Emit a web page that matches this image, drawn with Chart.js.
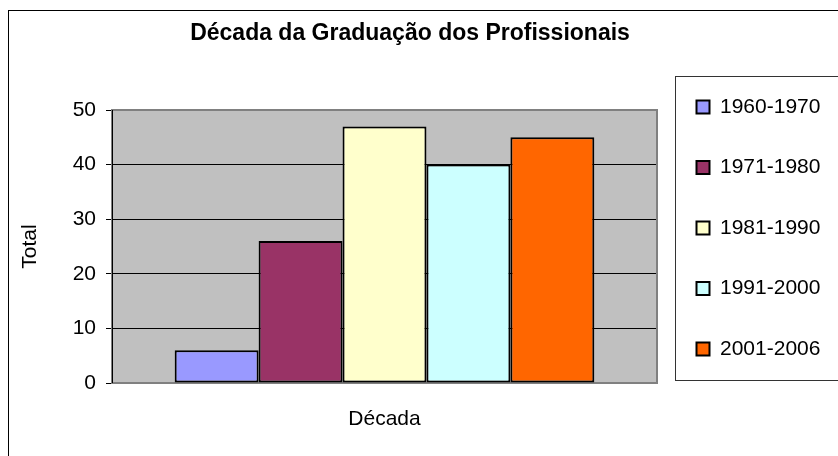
<!DOCTYPE html>
<html>
<head>
<meta charset="utf-8">
<script src="https://cdn.jsdelivr.net/npm/chart.js@4/dist/chart.umd.min.js"></script>
<style>
    body { margin: 0; background: #fff; }
    #wrap { width: 838px; height: 456px; }
</style>
</head>
<body>
<div id="wrap"><canvas id="decadaChart" width="838" height="456"></canvas></div>
<script>
// Dados do gráfico
const categorias = [""];
const decadas = ["1960-1970", "1971-1980", "1981-1990", "1991-2000", "2001-2006"];
const totais = [6, 26, 47, 40, 45];
const cores = ["#9999FF", "#993366", "#FFFFCC", "#CCFFFF", "#FF6600"];
const ticksY = [0, 10, 20, 30, 40, 50];

const fonte = 'Arial, "Liberation Sans", sans-serif';

// Fundo cinza da área de plotagem, moldura e caixas (estilo Excel)
const molduraPlugin = {
    id: "moldura",
    beforeLayout(chart) {
        // largura fixa da legenda, para a área de plotagem terminar em x = 657
        const lg = chart.legend;
        if (lg && !lg._larguraFixa) {
            const fitOrig = lg.fit;
            lg.fit = function () {
                fitOrig.call(this);
                this.width = 165;
            };
            lg._larguraFixa = true;
        }
    },
    beforeDraw(chart) {
        const ctx = chart.ctx;
        const a = chart.chartArea;
        ctx.save();
        ctx.fillStyle = "#fff";
        ctx.fillRect(0, 0, chart.width, chart.height);
        // borda externa do gráfico
        ctx.strokeStyle = "#000";
        ctx.lineWidth = 1;
        ctx.strokeRect(8.5, 10.5, 900, 500);
        // caixa da legenda
        ctx.strokeStyle = "#333";
        ctx.strokeRect(675.5, 76.5, 300, 304);
        // fundo da área de plotagem
        ctx.fillStyle = "#C0C0C0";
        ctx.fillRect(a.left, a.top, a.right - a.left, a.bottom - a.top);
        ctx.restore();
    },
    beforeDatasetsDraw(chart) {
        const ctx = chart.ctx;
        const a = chart.chartArea;
        ctx.save();
        ctx.strokeStyle = "#808080";
        ctx.lineWidth = 2;
        ctx.strokeRect(a.left, a.top, a.right - a.left, a.bottom - a.top);
        ctx.strokeStyle = "#000";
        ctx.lineWidth = 1;
        ctx.beginPath();
        ctx.moveTo(a.left + 0.5, a.top);
        ctx.lineTo(a.left + 0.5, a.bottom);
        ctx.stroke();
        ctx.restore();
    }
};

document.addEventListener("DOMContentLoaded", function () {
    const ctx = document.getElementById("decadaChart").getContext("2d");

    new Chart(ctx, {
        type: "bar",
        data: {
            labels: categorias,
            datasets: decadas.map((d, i) => ({
                label: d,
                data: [totais[i]],
                backgroundColor: cores[i],
                borderColor: "#000",
                borderWidth: 2,
                borderSkipped: false
            }))
        },
        options: {
            responsive: false,
            animation: false,
            devicePixelRatio: 1,
            layout: { padding: { left: -2, right: 16, top: 0, bottom: 0 } },
            datasets: {
                bar: { categoryPercentage: 0.77, barPercentage: 1.0 }
            },
            plugins: {
                title: {
                    display: true,
                    text: "Década da Graduação dos Profissionais",
                    color: "#000",
                    font: { family: fonte, size: 23, weight: "bold" },
                    padding: { top: 20.2, bottom: 62.2 }
                },
                legend: {
                    display: true,
                    position: "right",
                    labels: {
                        color: "#000",
                        font: { family: fonte, size: 21 },
                        boxWidth: 13,
                        boxHeight: 13,
                        padding: 39.5,
                        generateLabels: function (chart) {
                            return Chart.defaults.plugins.legend.labels.generateLabels(chart).map(item => {
                                item.lineWidth = 2;
                                item.strokeStyle = "#000";
                                return item;
                            });
                        }
                    }
                },
                tooltip: { enabled: false }
            },
            scales: {
                x: {
                    grid: { display: false },
                    border: { display: false },
                    ticks: { display: false },
                    title: {
                        display: true,
                        text: "Década",
                        color: "#000",
                        font: { family: fonte, size: 21 },
                        padding: { top: 4, bottom: 24.4 }
                    },
                    afterFit: function (scale) { scale.height = 73; }
                },
                y: {
                    min: 0,
                    max: 50,
                    afterBuildTicks: function (scale) {
                        scale.ticks = ticksY.map(v => ({ value: v }));
                    },
                    grid: {
                        color: c => (c.tick && (c.tick.value === 50 || c.tick.value === 0)) ? "rgba(0,0,0,0)" : "#000",
                        tickColor: "#000",
                        lineWidth: 1,
                        tickLength: 6
                    },
                    border: { display: true, color: "#000", width: 1 },
                    ticks: {
                        color: "#000",
                        font: { family: fonte, size: 21 },
                        padding: 10
                    },
                    title: {
                        display: true,
                        text: "Total",
                        color: "#000",
                        font: { family: fonte, size: 21 },
                        padding: { top: 19.4, bottom: 4 }
                    },
                    afterFit: function (scale) { scale.width = 114; }
                }
            }
        },
        plugins: [molduraPlugin]
    });
});
</script>
</body>
</html>
